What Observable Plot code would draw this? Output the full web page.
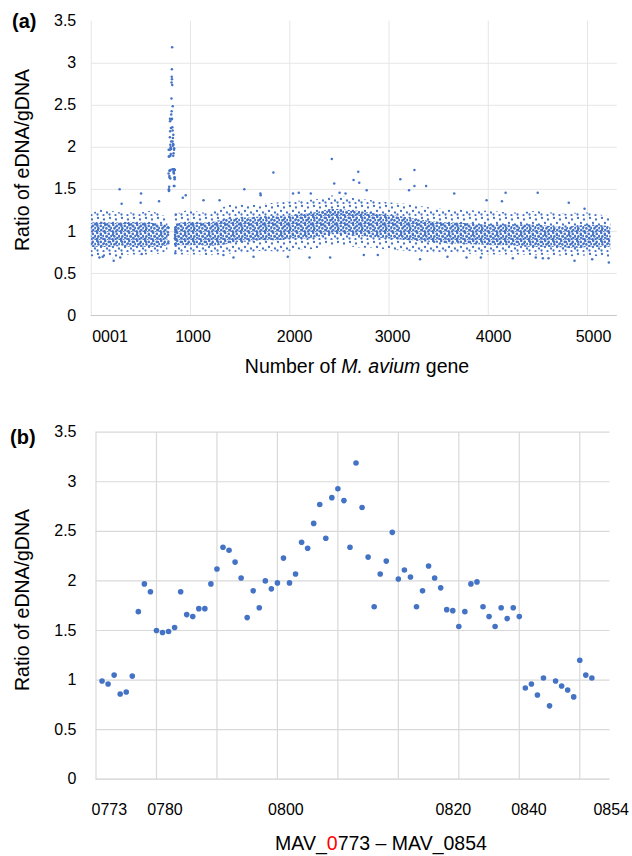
<!DOCTYPE html>
<html><head><meta charset="utf-8">
<script src="https://cdn.jsdelivr.net/npm/d3@7"></script>
<script src="https://cdn.jsdelivr.net/npm/@observablehq/plot@0.6"></script>
<style>
body{margin:0;background:#fff;font-family:"Liberation Sans",Arial,sans-serif;}
#wrap{position:relative;width:632px;height:856px;overflow:hidden;background:#fff}
.abs{position:absolute;white-space:nowrap;color:#000;line-height:1}
</style></head><body>
<svg width="0" height="0" style="position:absolute">
 <defs>
  <pattern id="coreDots" width="8" height="8" patternUnits="userSpaceOnUse">
   <g fill="#4472C4">
    <circle cx="1.2" cy="1.0" r="1.3"/><circle cx="4.8" cy="1.9" r="1.3"/>
    <circle cx="7.4" cy="4.0" r="1.3"/><circle cx="2.4" cy="4.4" r="1.3"/>
    <circle cx="5.3" cy="6.0" r="1.3"/><circle cx="0.6" cy="7.2" r="1.3"/>
    <circle cx="7.6" cy="7.9" r="1.3"/><circle cx="3.6" cy="8.0" r="1.1"/>
   </g>
  </pattern>
  <pattern id="edgeDots" width="12" height="12" patternUnits="userSpaceOnUse">
   <g fill="#4472C4">
    <circle cx="2" cy="2" r="1.15"/><circle cx="8" cy="3.5" r="1.15"/><circle cx="5" cy="7" r="1.15"/>
    <circle cx="11" cy="8.5" r="1.15"/><circle cx="1.5" cy="10.5" r="1.15"/><circle cx="7.5" cy="11" r="1.1"/>
   </g>
  </pattern>
 </defs>
</svg>
<div id="wrap">
 <div id="pa" class="abs" style="left:0;top:0"></div>
 <div id="pb" class="abs" style="left:0;top:390px"></div>
 <div class="abs" style="left:12px;top:11px;font-size:20px;font-weight:bold">(a)</div>
 <div class="abs" style="left:10px;top:427px;font-size:20px;font-weight:bold">(b)</div>
 <div class="abs" style="left:23px;top:160px;font-size:19.5px;transform:translate(-50%,-50%) rotate(-90deg)">Ratio of eDNA/gDNA</div>
 <div class="abs" style="left:23px;top:600px;font-size:19.5px;transform:translate(-50%,-50%) rotate(-90deg)">Ratio of eDNA/gDNA</div>
 <div class="abs" style="left:357px;top:356.5px;font-size:19.5px;transform:translateX(-50%)">Number of <i>M. avium</i> gene</div>
 <div class="abs" style="left:381px;top:833.5px;font-size:19.5px;transform:translateX(-50%)">MAV_<span style="color:#ff0000">0</span>773 – MAV_0854</div>
</div>
<script>
// ---------- Panel (b) data: MAV_0773 .. MAV_0854 ----------
const mavGenes = [773,774,775,776,777,778,779,780,781,782,783,784,785,786,787,788,789,790,791,792,
  793,794,795,796,797,798,799,800,801,802,803,804,805,806,807,808,809,810,811,812,
  813,814,815,816,817,818,819,820,821,822,823,824,825,826,827,828,829,830,831,832,
  833,834,835,836,837,838,839,840,841,842,843,844,845,846,847,848,849,850,851,852,853,854];
const mavRatio = [0.99,0.96,1.05,0.86,0.88,1.04,1.69,1.97,1.89,1.50,1.48,1.49,1.53,1.89,1.66,1.64,1.72,1.72,1.97,2.12,
  2.34,2.31,2.19,2.03,1.63,1.90,1.73,2.00,1.92,1.98,2.23,1.98,2.07,2.39,2.33,2.58,2.77,2.43,2.84,2.93,
  2.81,2.34,3.19,2.74,2.24,1.74,2.07,2.20,2.49,2.02,2.11,2.04,1.74,1.90,2.15,2.03,1.93,1.71,1.70,1.54,
  1.69,1.97,1.99,1.74,1.64,1.54,1.73,1.62,1.73,1.64,0.92,0.96,0.85,1.02,0.74,0.99,0.94,0.90,0.83,1.20,1.05,1.02];
const bTickLabels = ["0773","0780","0800","0820","0840","0854"];
const bTickAt = [2.2, 11.4, 31.4, 59.1, 71.6, 85.2];   // label positions along the category index (as placed in the figure)

// ---------- Panel (a) data: genome-wide cloud ----------
// dense core and outer edge of the point cloud, read per position along the genome
const bandGene = [1,100,200,300,400,500,600,700,772, 840,900,1000,1100,1200,1300,1400,1500,1600,1700,1800,1900,2000,2100,2200,2300,2400,2500,2600,2700,2800,2900,3000,3100,3200,3300,3400,3500,3600,3700,3800,3900,4000,4100,4200,4300,4400,4500,4600,4700,4800,4900,5000,5100,5200,5235];
const bandSeg  = [1,1,1,1,1,1,1,1,1, 2,2,2,2,2,2,2,2,2,2,2,2,2,2,2,2,2,2,2,2,2,2,2,2,2,2,2,2,2,2,2,2,2,2,2,2,2,2,2,2,2,2,2,2,2,2];
const coreLo = [0.81,0.81,0.81,0.82,0.81,0.81,0.81,0.81,0.83, 0.83,0.83,0.83,0.83,0.82,0.83,0.85,0.87,0.87,0.89,0.89,0.89,0.91,0.91,0.91,0.93,0.96,0.96,0.95,0.94,0.93,0.92,0.91,0.90,0.89,0.88,0.87,0.86,0.85,0.85,0.84,0.84,0.83,0.83,0.83,0.82,0.81,0.81,0.81,0.81,0.80,0.80,0.81,0.81,0.81,0.81];
const coreHi = [1.10,1.11,1.10,1.10,1.11,1.10,1.10,1.08,1.08, 1.08,1.10,1.11,1.10,1.10,1.13,1.15,1.16,1.16,1.17,1.18,1.18,1.18,1.20,1.21,1.23,1.26,1.26,1.25,1.24,1.22,1.20,1.19,1.18,1.16,1.14,1.12,1.11,1.10,1.10,1.09,1.08,1.08,1.08,1.08,1.08,1.08,1.08,1.06,1.05,1.05,1.06,1.08,1.07,1.06,1.05];
const edgeLo = [0.70,0.68,0.67,0.70,0.72,0.72,0.72,0.73,0.76, 0.74,0.72,0.72,0.72,0.71,0.72,0.73,0.74,0.75,0.76,0.76,0.75,0.76,0.78,0.78,0.80,0.82,0.84,0.82,0.80,0.80,0.79,0.78,0.77,0.76,0.75,0.74,0.74,0.74,0.74,0.73,0.72,0.72,0.72,0.72,0.72,0.71,0.71,0.72,0.71,0.70,0.70,0.71,0.70,0.68,0.70];
const edgeHi = [1.20,1.26,1.24,1.22,1.22,1.22,1.24,1.20,1.16, 1.18,1.22,1.26,1.22,1.22,1.27,1.31,1.32,1.30,1.32,1.33,1.34,1.35,1.36,1.37,1.38,1.42,1.42,1.40,1.38,1.37,1.35,1.34,1.33,1.32,1.30,1.28,1.27,1.26,1.26,1.25,1.24,1.24,1.23,1.22,1.22,1.23,1.24,1.22,1.22,1.20,1.22,1.22,1.20,1.18,1.16];
// isolated points outside the cloud
const outGene  = [286,502,306,498,683,922,952,1131,1293,1542,1704,1707,1835,2033,2091,2212,2424,2448,2502,2562,2643,2690,2700,2775,3114,3202,3256,3256,3374,3657,3983,4138,4175,4498,4811,4970,
  82,116,226,292,509,1332,1433,1635,1980,2199,2407,2746,2887,3313,3589,3781,3925,4247,4479,4550,4607,4869,5047,5215];
const outRatio = [1.50,1.45,1.33,1.34,1.36,1.40,1.43,1.37,1.37,1.50,1.45,1.43,1.70,1.45,1.46,1.45,1.86,1.57,1.46,1.45,1.61,1.71,1.58,1.49,1.62,1.49,1.73,1.54,1.54,1.45,1.37,1.36,1.46,1.46,1.34,1.27,
  0.69,0.70,0.65,0.69,0.73,0.72,0.69,0.70,0.70,0.69,0.69,0.72,0.72,0.67,0.70,0.69,0.69,0.68,0.69,0.68,0.68,0.65,0.67,0.63];
const aTickLabels = ["0001","1000","2000","3000","4000","5000"];
const aTickAt = [189, 1025, 2048, 3035, 4053, 5060];     // label positions along the gene axis (as placed in the figure)
const yTicks = [0,0.5,1,1.5,2,2.5,3,3.5];

// ---------- tables ----------
const band = bandGene.map((g,i)=>({gene:g, seg:bandSeg[i], coreLo:coreLo[i], coreHi:coreHi[i], edgeLo:edgeLo[i], edgeHi:edgeHi[i]}));
const outliers = outGene.map((g,i)=>({gene:g, ratio:outRatio[i]}));
const mav = mavGenes.map((g,i)=>({gene:g, idx:i+1, ratio:mavRatio[i]}));

const BLUE = "#4472C4";
const font = {fontFamily:'"Liberation Sans", Arial, sans-serif', fontSize:"16px", color:"#000", background:"transparent", overflow:"visible"};

// ---------- Panel (a) ----------
const pa = Plot.plot({
  width:632, height:390,
  marginLeft:90.75, marginRight:15.2, marginTop:20.7, marginBottom:75,
  style:font,
  x:{domain:[0,5300]},
  y:{domain:[0,3.5]},
  marks:[
    Plot.gridY([0.5,1,1.5,2,2.5,3], {stroke:"#e6e6e6", strokeOpacity:1}),
    Plot.gridX([1000,2000,3000,4000,5000], {stroke:"#e6e6e6", strokeOpacity:1}),
    Plot.ruleX([0], {stroke:"#e6e6e6"}),
    Plot.ruleY([0], {stroke:"#c8c8c8"}),
    Plot.areaY(band, {x:"gene", y1:"edgeLo", y2:"edgeHi", z:"seg", fill:"url(#edgeDots)"}),
    Plot.areaY(band, {x:"gene", y1:"coreLo", y2:"coreHi", z:"seg", fill:"url(#coreDots)"}),
    Plot.dot(outliers, {x:"gene", y:"ratio", r:1.25, fill:BLUE}),
    Plot.dot(mav, {x:"gene", y:"ratio", r:1.25, fill:BLUE}),
    Plot.axisY(yTicks, {label:null, tickSize:0, tickPadding:15, tickFormat:d=>String(d), fill:"#000"}),
    Plot.axisX(aTickAt, {label:null, tickSize:0, tickPadding:15, tickFormat:d=>aTickLabels[aTickAt.indexOf(d)], fill:"#000"})
  ]
});
document.getElementById("pa").append(pa);

// ---------- Panel (b) ----------
const pb = Plot.plot({
  width:632, height:466,
  marginLeft:95.5, marginRight:22.5, marginTop:41.7, marginBottom:77.3,
  style:font,
  x:{domain:[0,85]},
  y:{domain:[0,3.5]},
  marks:[
    Plot.gridY([0.5,1,1.5,2,2.5,3,3.5], {stroke:"#d9d9d9", strokeOpacity:1, strokeWidth:1.2}),
    Plot.gridX([10,20,30,40,50,60,70,80], {stroke:"#d9d9d9", strokeOpacity:1, strokeWidth:1.2}),
    Plot.ruleX([0], {stroke:"#d9d9d9", strokeWidth:1.2}),
    Plot.ruleY([0], {stroke:"#d0d0d0", strokeWidth:1.2}),
    Plot.dot(mav, {x:"idx", y:"ratio", r:2.8, fill:BLUE}),
    Plot.axisY(yTicks, {label:null, tickSize:0, tickPadding:19.5, tickFormat:d=>String(d), fill:"#000"}),
    Plot.axisX(bTickAt, {label:null, tickSize:0, tickPadding:24, tickFormat:d=>bTickLabels[bTickAt.indexOf(d)], fill:"#000"})
  ]
});
document.getElementById("pb").append(pb);
</script>
</body></html>
